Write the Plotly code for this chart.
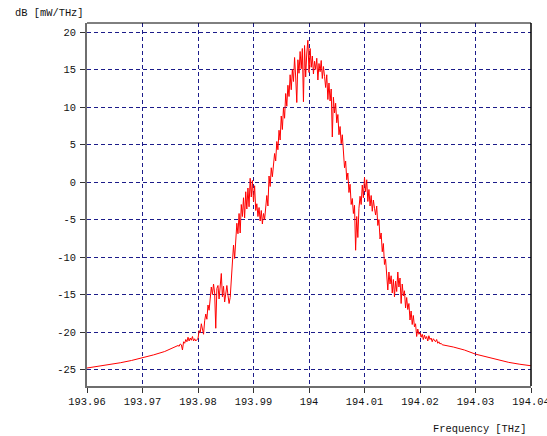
import numpy as np
import plotly.graph_objects as go

# Optical power spectral density of the channel, dB [mW/THz]

# Smooth lower tail on the low-frequency side
left_tail_freq = [193.960, 193.962, 193.964, 193.966, 193.968, 193.970,
                  193.972, 193.974]
left_tail_db = [-24.8, -24.6, -24.4, -24.1, -23.8, -23.45, -23.05, -22.6]

# Densely sampled core of the spectrum (uniform 0.2 GHz sampling)
core_start = 193.976
core_step = 0.0002
core_db = [
    -22.0, -21.9, -21.8, -21.9, -21.6, -21.7, -22.4, -21.3, -21.5, -21.0,
    -21.3, -20.7, -21.2, -20.8, -21.1, -20.6, -21.2, -20.9, -21.2, -21.0,
    -20.9, -19.8, -20.1, -18.9, -19.6, -20.3, -18.5, -17.6, -18.3, -16.4,
    -17.1, -15.2, -14.0, -15.0, -13.6, -14.8, -19.5, -14.2, -13.8, -15.6,
    -14.0, -12.2, -15.3, -13.9, -16.0, -14.5, -13.8, -15.1, -16.2, -15.4,
    -13.0, -11.0, -8.4, -10.2, -7.3, -5.5, -6.9, -4.2, -6.8, -3.0,
    -4.6, -2.1, -4.8, -1.3, -3.6, -0.8, -3.3, 0.5, -2.0, 0.2,
    -2.6, -0.5, -3.8, -2.9, -4.6, -3.4, -5.2, -3.8, -5.6, -4.2,
    -5.0, -3.0, -1.8, -3.2, 0.8, -0.6, 1.9, 0.7, 2.9, 3.8,
    2.8, 5.4, 4.3, 6.9, 5.6, 8.8, 7.0, 9.9, 8.5, 11.8,
    10.1, 12.9, 11.4, 14.3, 12.3, 15.0, 13.4, 16.6, 14.0, 10.6,
    16.3, 14.5, 17.4, 15.1, 17.8, 10.7, 18.2, 14.0, 17.2, 18.9,
    14.6, 17.8, 15.3, 16.8, 14.4, 16.1, 15.0, 16.5, 13.6, 15.8,
    14.7, 16.2, 13.8, 15.4, 14.1, 12.6, 14.3, 11.0, 13.2, 10.8,
    12.4, 6.0, 11.3, 9.2, 10.5, 7.9, 9.0, 6.3, 7.4, 5.1,
    6.3, 3.6, 1.9, 2.8, 0.3, 1.2, -1.4, -0.3, -3.0, -2.2,
    -4.2, -3.1, -9.1, -4.6, -7.4, -3.5, -1.9, -3.0, -0.4, -2.1,
    0.6, -1.3, 0.3, -2.6, -1.0, -3.2, -1.8, -3.9, -2.4, -3.5,
    -4.4, -3.2, -5.8, -5.0, -7.6, -6.8, -9.3, -8.2, -11.0, -10.3,
    -12.8, -14.4, -12.0, -13.6, -12.5, -14.8, -13.0, -15.3, -13.2, -14.6,
    -12.0, -14.0, -12.8, -16.2, -13.6, -15.2, -14.5, -16.8, -15.4, -17.0,
    -16.2, -18.4, -17.2, -19.0, -17.8, -19.3, -18.9, -20.6, -19.6, -20.3,
    -20.1, -20.7, -20.3, -21.0, -20.4, -20.9, -20.6, -21.2, -20.5, -21.0,
    -20.8, -21.3, -20.9, -21.1, -21.3, -21.0, -21.5, -21.3, -21.6, -21.5,
    -21.7,
]

# Smooth lower tail on the high-frequency side
right_tail_freq = [194.026, 194.028, 194.030, 194.032, 194.034, 194.036,
                   194.038, 194.040]
right_tail_db = [-22.0, -22.4, -22.95, -23.3, -23.75, -24.05, -24.3, -24.5]

x_ticks = [193.96, 193.97, 193.98, 193.99, 194.00, 194.01, 194.02, 194.03,
           194.04]
x_tick_labels = ["193.96", "193.97", "193.98", "193.99", "194", "194.01",
                 "194.02", "194.03", "194.04"]
y_ticks = [-25, -20, -15, -10, -5, 0, 5, 10, 15, 20]
y_tick_labels = ["-25", "-20", "-15", "-10", "-5", "0", "5", "10", "15", "20"]

core_freq = list(core_start + core_step * np.arange(len(core_db)))
freq = left_tail_freq + core_freq + right_tail_freq
power = left_tail_db + core_db + right_tail_db

MONO = "Liberation Mono, Courier New, monospace"
GRID = "#1c1c8a"
TEXT = "#111111"

fig = go.Figure()
fig.add_trace(go.Scatter(
    x=freq, y=power, mode="lines",
    line=dict(color="#ff0000", width=1),
    showlegend=False, hoverinfo="skip",
))

axis_common = dict(
    showline=True, linecolor="#6e6e6e", linewidth=2, mirror=False,
    showgrid=True, gridcolor=GRID, gridwidth=1, griddash="4px,3px",
    ticks="outside", ticklen=5, tickcolor="#333333", tickwidth=1,
    tickfont=dict(family=MONO, size=10.4, color=TEXT),
    zeroline=False, tickmode="array", ticklabeloverflow="allow",
    automargin=False,
)

fig.update_xaxes(range=[193.96, 194.04], tickvals=x_ticks,
                 ticktext=x_tick_labels, **axis_common)
fig.update_yaxes(range=[-27.2, 21.2], tickvals=y_ticks,
                 ticktext=y_tick_labels, ticklabelstandoff=2, **axis_common)

# Thin black frame on the top and right sides of the plot area
fig.add_shape(type="line", xref="paper", yref="paper", x0=0, x1=1, y0=1, y1=1,
              line=dict(color="#000000", width=1), layer="above")
fig.add_shape(type="line", xref="paper", yref="paper", x0=1, x1=1, y0=0, y1=1,
              line=dict(color="#000000", width=1.5), layer="above")

fig.add_annotation(text="dB [mW/THz]", xref="paper", yref="paper",
                   x=-0.1667, y=1.0267, xanchor="left", yanchor="middle",
                   showarrow=False,
                   font=dict(family=MONO, size=10.4, color=TEXT))
fig.add_annotation(text="Frequency [THz]", xref="paper", yref="paper",
                   x=0.9955, y=-0.1176, xanchor="right", yanchor="middle",
                   showarrow=False,
                   font=dict(family=MONO, size=10.4, color=TEXT))

fig.update_layout(
    width=547, height=436, autosize=False,
    margin=dict(l=87, r=16, t=23, b=50),
    paper_bgcolor="#ffffff", plot_bgcolor="#ffffff",
)

fig.write_html("out.html")
